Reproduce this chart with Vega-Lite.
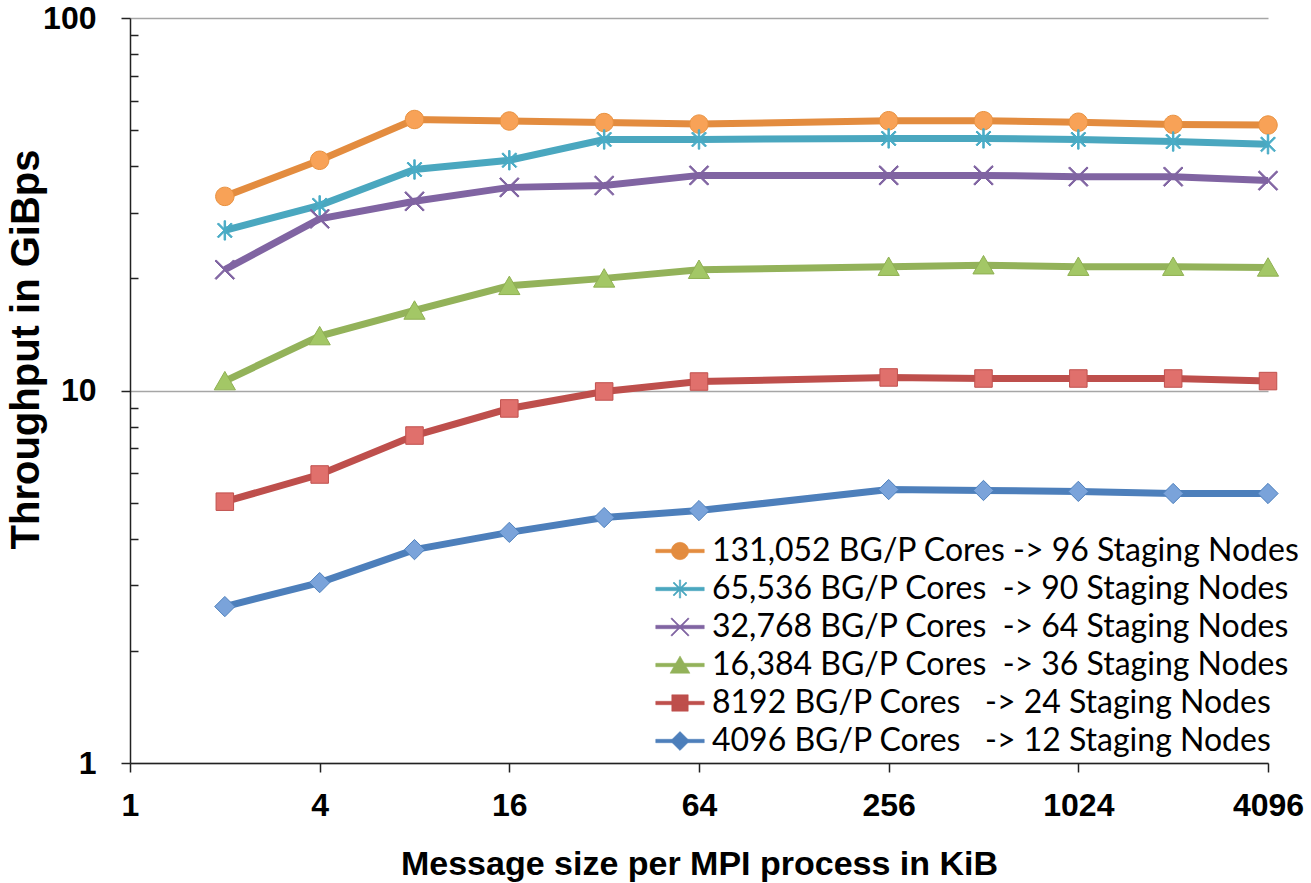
{
  "$schema": "https://vega.github.io/schema/vega-lite/v6.json",
  "autosize": {"type": "none"},
  "padding": {"left": 130, "top": 18, "right": 43, "bottom": 120},
  "width": 1138,
  "height": 745,
  "background": "white",
  "config": {"view": {"stroke": null}},
  "data": {"values": [
    {"series": "131,052 BG/P Cores -> 96 Staging Nodes", "cores": 131052, "size": 2, "tp": 33.2},
    {"series": "131,052 BG/P Cores -> 96 Staging Nodes", "cores": 131052, "size": 4, "tp": 41.5},
    {"series": "131,052 BG/P Cores -> 96 Staging Nodes", "cores": 131052, "size": 8, "tp": 53.4},
    {"series": "131,052 BG/P Cores -> 96 Staging Nodes", "cores": 131052, "size": 16, "tp": 52.9},
    {"series": "131,052 BG/P Cores -> 96 Staging Nodes", "cores": 131052, "size": 32, "tp": 52.4},
    {"series": "131,052 BG/P Cores -> 96 Staging Nodes", "cores": 131052, "size": 64, "tp": 51.9},
    {"series": "131,052 BG/P Cores -> 96 Staging Nodes", "cores": 131052, "size": 256, "tp": 53.0},
    {"series": "131,052 BG/P Cores -> 96 Staging Nodes", "cores": 131052, "size": 512, "tp": 53.0},
    {"series": "131,052 BG/P Cores -> 96 Staging Nodes", "cores": 131052, "size": 1024, "tp": 52.5},
    {"series": "131,052 BG/P Cores -> 96 Staging Nodes", "cores": 131052, "size": 2048, "tp": 51.8},
    {"series": "131,052 BG/P Cores -> 96 Staging Nodes", "cores": 131052, "size": 4096, "tp": 51.6},
    {"series": "65,536 BG/P Cores\u00a0 -> 90 Staging Nodes", "cores": 65536, "size": 2, "tp": 26.9},
    {"series": "65,536 BG/P Cores\u00a0 -> 90 Staging Nodes", "cores": 65536, "size": 4, "tp": 31.4},
    {"series": "65,536 BG/P Cores\u00a0 -> 90 Staging Nodes", "cores": 65536, "size": 8, "tp": 39.2},
    {"series": "65,536 BG/P Cores\u00a0 -> 90 Staging Nodes", "cores": 65536, "size": 16, "tp": 41.5},
    {"series": "65,536 BG/P Cores\u00a0 -> 90 Staging Nodes", "cores": 65536, "size": 32, "tp": 47.2},
    {"series": "65,536 BG/P Cores\u00a0 -> 90 Staging Nodes", "cores": 65536, "size": 64, "tp": 47.2},
    {"series": "65,536 BG/P Cores\u00a0 -> 90 Staging Nodes", "cores": 65536, "size": 256, "tp": 47.5},
    {"series": "65,536 BG/P Cores\u00a0 -> 90 Staging Nodes", "cores": 65536, "size": 512, "tp": 47.5},
    {"series": "65,536 BG/P Cores\u00a0 -> 90 Staging Nodes", "cores": 65536, "size": 1024, "tp": 47.2},
    {"series": "65,536 BG/P Cores\u00a0 -> 90 Staging Nodes", "cores": 65536, "size": 2048, "tp": 46.6},
    {"series": "65,536 BG/P Cores\u00a0 -> 90 Staging Nodes", "cores": 65536, "size": 4096, "tp": 45.8},
    {"series": "32,768 BG/P Cores\u00a0 -> 64 Staging Nodes", "cores": 32768, "size": 2, "tp": 21.1},
    {"series": "32,768 BG/P Cores\u00a0 -> 64 Staging Nodes", "cores": 32768, "size": 4, "tp": 28.9},
    {"series": "32,768 BG/P Cores\u00a0 -> 64 Staging Nodes", "cores": 32768, "size": 8, "tp": 32.2},
    {"series": "32,768 BG/P Cores\u00a0 -> 64 Staging Nodes", "cores": 32768, "size": 16, "tp": 35.1},
    {"series": "32,768 BG/P Cores\u00a0 -> 64 Staging Nodes", "cores": 32768, "size": 32, "tp": 35.5},
    {"series": "32,768 BG/P Cores\u00a0 -> 64 Staging Nodes", "cores": 32768, "size": 64, "tp": 37.8},
    {"series": "32,768 BG/P Cores\u00a0 -> 64 Staging Nodes", "cores": 32768, "size": 256, "tp": 37.8},
    {"series": "32,768 BG/P Cores\u00a0 -> 64 Staging Nodes", "cores": 32768, "size": 512, "tp": 37.8},
    {"series": "32,768 BG/P Cores\u00a0 -> 64 Staging Nodes", "cores": 32768, "size": 1024, "tp": 37.5},
    {"series": "32,768 BG/P Cores\u00a0 -> 64 Staging Nodes", "cores": 32768, "size": 2048, "tp": 37.5},
    {"series": "32,768 BG/P Cores\u00a0 -> 64 Staging Nodes", "cores": 32768, "size": 4096, "tp": 36.6},
    {"series": "16,384 BG/P Cores\u00a0 -> 36 Staging Nodes", "cores": 16384, "size": 2, "tp": 10.6},
    {"series": "16,384 BG/P Cores\u00a0 -> 36 Staging Nodes", "cores": 16384, "size": 4, "tp": 14.0},
    {"series": "16,384 BG/P Cores\u00a0 -> 36 Staging Nodes", "cores": 16384, "size": 8, "tp": 16.4},
    {"series": "16,384 BG/P Cores\u00a0 -> 36 Staging Nodes", "cores": 16384, "size": 16, "tp": 19.1},
    {"series": "16,384 BG/P Cores\u00a0 -> 36 Staging Nodes", "cores": 16384, "size": 32, "tp": 20.0},
    {"series": "16,384 BG/P Cores\u00a0 -> 36 Staging Nodes", "cores": 16384, "size": 64, "tp": 21.1},
    {"series": "16,384 BG/P Cores\u00a0 -> 36 Staging Nodes", "cores": 16384, "size": 256, "tp": 21.5},
    {"series": "16,384 BG/P Cores\u00a0 -> 36 Staging Nodes", "cores": 16384, "size": 512, "tp": 21.7},
    {"series": "16,384 BG/P Cores\u00a0 -> 36 Staging Nodes", "cores": 16384, "size": 1024, "tp": 21.5},
    {"series": "16,384 BG/P Cores\u00a0 -> 36 Staging Nodes", "cores": 16384, "size": 2048, "tp": 21.5},
    {"series": "16,384 BG/P Cores\u00a0 -> 36 Staging Nodes", "cores": 16384, "size": 4096, "tp": 21.4},
    {"series": "8192 BG/P Cores\u00a0\u00a0 -> 24 Staging Nodes", "cores": 8192, "size": 2, "tp": 5.03},
    {"series": "8192 BG/P Cores\u00a0\u00a0 -> 24 Staging Nodes", "cores": 8192, "size": 4, "tp": 5.95},
    {"series": "8192 BG/P Cores\u00a0\u00a0 -> 24 Staging Nodes", "cores": 8192, "size": 8, "tp": 7.57},
    {"series": "8192 BG/P Cores\u00a0\u00a0 -> 24 Staging Nodes", "cores": 8192, "size": 16, "tp": 8.95},
    {"series": "8192 BG/P Cores\u00a0\u00a0 -> 24 Staging Nodes", "cores": 8192, "size": 32, "tp": 9.94},
    {"series": "8192 BG/P Cores\u00a0\u00a0 -> 24 Staging Nodes", "cores": 8192, "size": 64, "tp": 10.57},
    {"series": "8192 BG/P Cores\u00a0\u00a0 -> 24 Staging Nodes", "cores": 8192, "size": 256, "tp": 10.84},
    {"series": "8192 BG/P Cores\u00a0\u00a0 -> 24 Staging Nodes", "cores": 8192, "size": 512, "tp": 10.77},
    {"series": "8192 BG/P Cores\u00a0\u00a0 -> 24 Staging Nodes", "cores": 8192, "size": 1024, "tp": 10.77},
    {"series": "8192 BG/P Cores\u00a0\u00a0 -> 24 Staging Nodes", "cores": 8192, "size": 2048, "tp": 10.77},
    {"series": "8192 BG/P Cores\u00a0\u00a0 -> 24 Staging Nodes", "cores": 8192, "size": 4096, "tp": 10.6},
    {"series": "4096 BG/P Cores\u00a0\u00a0 -> 12 Staging Nodes", "cores": 4096, "size": 2, "tp": 2.63},
    {"series": "4096 BG/P Cores\u00a0\u00a0 -> 12 Staging Nodes", "cores": 4096, "size": 4, "tp": 3.05},
    {"series": "4096 BG/P Cores\u00a0\u00a0 -> 12 Staging Nodes", "cores": 4096, "size": 8, "tp": 3.74},
    {"series": "4096 BG/P Cores\u00a0\u00a0 -> 12 Staging Nodes", "cores": 4096, "size": 16, "tp": 4.16},
    {"series": "4096 BG/P Cores\u00a0\u00a0 -> 12 Staging Nodes", "cores": 4096, "size": 32, "tp": 4.56},
    {"series": "4096 BG/P Cores\u00a0\u00a0 -> 12 Staging Nodes", "cores": 4096, "size": 64, "tp": 4.76},
    {"series": "4096 BG/P Cores\u00a0\u00a0 -> 12 Staging Nodes", "cores": 4096, "size": 256, "tp": 5.42},
    {"series": "4096 BG/P Cores\u00a0\u00a0 -> 12 Staging Nodes", "cores": 4096, "size": 512, "tp": 5.39},
    {"series": "4096 BG/P Cores\u00a0\u00a0 -> 12 Staging Nodes", "cores": 4096, "size": 1024, "tp": 5.36},
    {"series": "4096 BG/P Cores\u00a0\u00a0 -> 12 Staging Nodes", "cores": 4096, "size": 2048, "tp": 5.29},
    {"series": "4096 BG/P Cores\u00a0\u00a0 -> 12 Staging Nodes", "cores": 4096, "size": 4096, "tp": 5.29}
  ]},
  "encoding": {
    "x": {
      "field": "size", "type": "quantitative",
      "scale": {"type": "log", "base": 2, "domain": [1, 4096], "nice": false},
      "axis": {
        "values": [1, 4, 16, 64, 256, 1024, 4096], "format": "d", "grid": false,
        "title": "Message size per MPI process in KiB",
        "titleFont": "Liberation Sans", "titleFontSize": 34, "titleFontWeight": "bold", "titleColor": "black",
        "titleY": 84, "titleBaseline": "top",
        "labelFont": "Liberation Sans", "labelFontSize": 32, "labelFontWeight": "bold", "labelColor": "black",
        "labelPadding": 18, "tickSize": 9, "tickWidth": 1.5, "tickColor": "#222",
        "domainColor": "#222", "domainWidth": 1.5, "labelFlush": false, "labelOverlap": false
      }
    },
    "y": {
      "field": "tp", "type": "quantitative",
      "scale": {"type": "log", "domain": [1, 100], "nice": false},
      "axis": {
        "values": [1, 2, 3, 4, 5, 6, 7, 8, 9, 10, 20, 30, 40, 50, 60, 70, 80, 90, 100],
        "labelExpr": "(datum.value == 1 || datum.value == 10 || datum.value == 100) ? datum.value + '' : ''",
        "grid": true,
        "gridColor": "#A6A6A6", "gridWidth": 1.5,
        "gridOpacity": {"condition": {"test": "datum.value == 1 || datum.value == 10 || datum.value == 100", "value": 1}, "value": 0},
        "tickSize": {"condition": {"test": "datum.value == 1 || datum.value == 10 || datum.value == 100", "value": 9}, "value": -8},
        "tickWidth": 1.5, "tickColor": "#222",
        "domainColor": "#222", "domainWidth": 1.5,
        "title": "Throughput in GiBps",
        "titleFont": "Liberation Sans", "titleFontSize": 40, "titleFontWeight": "bold", "titleColor": "black",
        "titleX": -84, "titleY": 331,
        "labelFont": "Liberation Sans", "labelFontSize": 32, "labelFontWeight": "bold", "labelColor": "black",
        "labelPadding": 25, "labelOverlap": false, "labelFlush": false
      }
    }
  },
  "layer": [
    {
      "mark": {"type": "line", "strokeWidth": 7},
      "encoding": {
        "color": {
          "field": "series", "type": "nominal",
          "scale": {
            "domain": ["131,052 BG/P Cores -> 96 Staging Nodes", "65,536 BG/P Cores\u00a0 -> 90 Staging Nodes", "32,768 BG/P Cores\u00a0 -> 64 Staging Nodes", "16,384 BG/P Cores\u00a0 -> 36 Staging Nodes", "8192 BG/P Cores\u00a0\u00a0 -> 24 Staging Nodes", "4096 BG/P Cores\u00a0\u00a0 -> 12 Staging Nodes"],
            "range": ["#E38C3F", "#4AA7BF", "#8064A2", "#93B25A", "#BE4F4C", "#4D7FBB"]
          },
          "legend": {
            "title": null, "orient": "none", "legendX": 534, "legendY": 517,
            "labelFont": "Lato", "labelFontSize": 32, "labelColor": "black", "labelLimit": 900,
            "symbolSize": 300, "labelOffset": 16, "rowPadding": 6,
            "encode": {
              "symbols": {
                "update": {
                  "shape": {"signal": "'M-2.8,-0.2H2.8V0.2H-2.8Z ' + ['M-1,0A1,1,0,1,1,1,0A1,1,0,1,1,-1,0Z', 'M-0.69,-0.81L0.81,0.69L0.69,0.81L-0.81,-0.69Z M-0.81,0.69L0.69,-0.81L0.81,-0.69L-0.69,0.81Z M-0.08,-1.05H0.08V1.05H-0.08Z', 'M-0.94,-1.06L1.06,0.94L0.94,1.06L-1.06,-0.94Z M-1.06,0.94L0.94,-1.06L1.06,-0.94L-0.94,1.06Z', 'M0,-1.05L1.15,0.95L-1.15,0.95Z', 'M-0.95,-0.95H0.95V0.95H-0.95Z', 'M0,-1.1L1.1,0L0,1.1L-1.1,0Z'][datum.index]"},
                  "fill": {"signal": "scale('color', datum.value)"},
                  "stroke": {"signal": "scale('color', datum.value)"},
                  "strokeWidth": {"value": 0.5},
                  "opacity": {"value": 1},
                  "fillOpacity": {"value": 1}
                }
              }
            }
          }
        }
      }
    },
    {
      "mark": {"type": "point", "filled": true, "size": 340, "opacity": 1, "strokeWidth": 1},
      "encoding": {
        "shape": {
          "field": "cores", "type": "nominal", "legend": null,
          "scale": {
            "domain": [131052, 65536, 32768, 16384, 8192, 4096],
            "range": [
              "M-1,0A1,1,0,1,1,1,0A1,1,0,1,1,-1,0Z",
              "M-0.69,-0.81L0.81,0.69L0.69,0.81L-0.81,-0.69Z M-0.81,0.69L0.69,-0.81L0.81,-0.69L-0.69,0.81Z M-0.08,-1.05H0.08V1.05H-0.08Z",
              "M-0.94,-1.06L1.06,0.94L0.94,1.06L-1.06,-0.94Z M-1.06,0.94L0.94,-1.06L1.06,-0.94L-0.94,1.06Z",
              "M0,-1.05L1.15,0.95L-1.15,0.95Z",
              "M-0.95,-0.95H0.95V0.95H-0.95Z",
              "M0,-1.1L1.1,0L0,1.1L-1.1,0Z"
            ]
          }
        },
        "fill": {
          "field": "cores", "type": "nominal", "legend": null,
          "scale": {
            "domain": [131052, 65536, 32768, 16384, 8192, 4096],
            "range": ["#F8A257", "#4AACC6", "#8064A2", "#A3C766", "#E0706C", "#7AA3DA"]
          }
        },
        "stroke": {
          "field": "cores", "type": "nominal", "legend": null,
          "scale": {
            "domain": [131052, 65536, 32768, 16384, 8192, 4096],
            "range": ["#E8913F", "#4AACC6", "#8064A2", "#8FB052", "#C0504D", "#4F81BD"]
          }
        }
      }
    }
  ]
}
